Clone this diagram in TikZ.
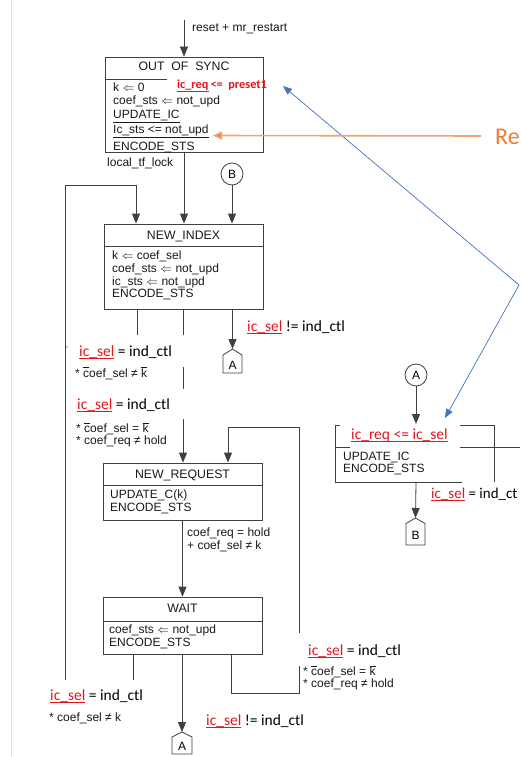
\documentclass[tikz,border=0pt]{standalone}
\usepackage{fontspec}
\setmainfont{Liberation Sans}
\newfontfamily\calfont{Carlito}
\usetikzlibrary{arrows.meta}
\definecolor{ored}{HTML}{E3161E}
\definecolor{oorange}{HTML}{ED7D31}
\definecolor{oblue}{HTML}{4472C4}
\definecolor{edge}{HTML}{E4E4E4}
\newsavebox\ulbox
\newcommand\redul[1]{\sbox\ulbox{#1}\rlap{\textcolor{ored}{\rule[-3.3pt]{\wd\ulbox}{1.7pt}}}\usebox\ulbox}
\newcommand\obar[1]{\sbox\ulbox{#1}\rlap{\raisebox{9.3pt}{\rule{\wd\ulbox}{0.5pt}}}\usebox\ulbox}
\newcommand\icsel{\redul{\textcolor{ored}{ic\_sel}}}
\begin{document}
\begin{tikzpicture}[x=1pt,y=-1pt,
  ln/.style={draw=black!75, line width=0.8pt},
  arr/.style={-{Triangle[width=8pt,length=10pt]}},
  bx/.style={draw=black!75, line width=0.8pt, inner sep=0, minimum width=159},
  ttl/.style={inner sep=0, anchor=base, font=\fontsize{12.3}{14}\selectfont, text=black!90},
  tx/.style={inner sep=0, anchor=base west, font=\fontsize{12}{14}\selectfont, text=black!90},
  lb/.style={inner sep=0, anchor=base west, font=\calfont\fontsize{15.5}{17}\selectfont},
  circ/.style={draw=black!75, line width=0.8pt, circle, minimum size=22, inner sep=0, font=\fontsize{12}{14}\selectfont},
  pent/.style={inner sep=0, font=\fontsize{12}{14}\selectfont}]
\clip (0,0) rectangle (520,757);
\fill[white] (0,0) rectangle (520,757);
\draw[edge] (11,0) -- (11,757);

% ---------- OUT OF SYNC ----------
\node[bx, minimum width=158, minimum height=95] (oos) at (184,104.5) {};
\draw[ln] (105,79) -- (167,79);
\node[ttl] (oost) at (184,71) {OUT\ \ OF\ \ SYNC};
\node[inner sep=0, anchor=base west, font=\calfont\bfseries\fontsize{12.3}{14}\selectfont, text=ored] (oosr) at (177,89) {\redul{ic\_req}\,<=\ \ preset1};
\node[tx] (o1) at (113,92) {k $\Leftarrow$ 0};
\node[tx] (o2) at (113,105) {coef\_sts $\Leftarrow$ not\_upd};
\node[tx] (o3) at (113,118) {\underline{UPDATE\_IC}};
\node[tx] (o4) at (113,133) {\underline{Ic\_sts <= not\_upd}};
\node[tx] (o5) at (113,150) {ENCODE\_STS};
\node[tx] (ltf) at (107,166.5) {local\_tf\_lock};
\coordinate (rst) at (184,20);
\node[tx] (rstl) at (192,31.5) {reset + mr\_restart};

% ---------- NEW_INDEX ----------
\node[bx, minimum height=85] (ni) at (183.5,266.5) {};
\draw[ln] (104,246) -- (263,246);
\node[ttl] (nit) at (183.5,239.5) {NEW\_INDEX};
\node[tx] (n1) at (112,259.5) {k $\Leftarrow$ coef\_sel};
\node[tx] (n2) at (112,272.5) {coef\_sts $\Leftarrow$ not\_upd};
\node[tx] (n3) at (112,285.5) {ic\_sts $\Leftarrow$ not\_upd};
\node[tx] (n4) at (112,297.5) {ENCODE\_STS};

% ---------- NEW_REQUEST ----------
\node[bx, minimum height=57] (nr) at (182.5,491.5) {};
\draw[ln] (103,485) -- (262,485);
\node[ttl] (nrt) at (182.5,478.5) {NEW\_REQUEST};
\node[tx] (r1) at (110,498.5) {UPDATE\_C(k)};
\node[tx] (r2) at (110,511.5) {ENCODE\_STS};

% ---------- WAIT ----------
\node[bx, minimum height=57] (wt) at (182.5,625.5) {};
\draw[ln] (103,621) -- (262,621);
\node[ttl] (wtt) at (182.5,612.5) {WAIT};
\node[tx] (w1) at (109,633.5) {coef\_sts $\Leftarrow$ not\_upd};
\node[tx] (w2) at (109,646.5) {ENCODE\_STS};

% ---------- connectors (left column) ----------
\node[circ] (cB) at (232,174) {B};
\coordinate (x232) at (232.5,0);
\coordinate (x133) at (133,0); \coordinate (x231) at (231,0);

\draw[ln,arr] (rst) -- (oos.north);
\draw[ln,arr] (oos.south) -- (oos.south |- ni.north);
\draw[ln,arr] (cB) -- (cB |- ni.north);
\coordinate (lpB) at (65,680);
\coordinate (lpT) at (136,185);
\draw[ln,arr] (lpB) |- (lpT) -- (lpT |- ni.north);

% exits of NEW_INDEX
\coordinate (e1) at (137,335);
\draw[ln] (e1 |- ni.south) -- (e1);
\coordinate (e2) at (183,335);
\draw[ln] (e2 |- ni.south) -- (e2);
\coordinate (e2a) at (183,367); \coordinate (e2b) at (183,389);
\draw[ln] (e2a) -- (e2b);
\coordinate (e2c) at (183,419);
\draw[ln,arr] (e2c) -- (e2c |- nr.north);

% off-page A after NEW_INDEX
\coordinate (pA1) at (232.5,349);
\draw[ln] (pA1) -- (242,355) -- (242,373) -- (223,373) -- (223,355) -- cycle;
\node[pent] (pA1t) at (232.5,365) {A};
\draw[ln,arr] (x232 |- ni.south) -- (pA1);

% NEW_REQUEST -> WAIT
\draw[ln,arr] (nr.south) -- (nr.south |- wt.north);

% right loop WAIT -> NEW_REQUEST
\coordinate (rl1) at (299,633);
\coordinate (rl2) at (228,427);
\draw[ln,arr] (rl1) |- (rl2) -- (rl2 |- nr.north);
\coordinate (rl3) at (299,666);
\draw[ln] (x231 |- wt.south) |- (299,693) -- (rl3);

% WAIT exits
\coordinate (we1) at (133,680);
\draw[ln] (x133 |- wt.south) -- (we1);
\coordinate (pA2) at (182,732);
\draw[ln,arr] (wt.south -| pA2) -- (pA2);
\draw[ln] (pA2) -- (192,737) -- (192,754) -- (172,754) -- (172,737) -- cycle;
\node[pent] (pA2t) at (182,746.5) {A};

% ---------- labels ----------
\node[lb] (l1) at (247,331) {\icsel{} != ind\_ctl};
\fill[black!80] (67,347) circle (0.7);
\node[lb] (l2) at (79,356) {\icsel{} = ind\_ctl};
\node[tx] (l2b) at (75,377) {* \obar{c}oef\_sel ≠ \obar{k}};
\node[lb] (l3) at (77,409) {\icsel{} = ind\_ctl};
\node[tx] (l3b) at (76,432.5) {* \obar{c}oef\_sel = \obar{k}};
\node[tx] (l3c) at (76,444.5) {* coef\_req ≠ hold};
\node[tx] (l4) at (187,536.5) {coef\_req = hold};
\node[tx] (l4b) at (187,549.5) {+ coef\_sel ≠ k};
\node[lb] (l5) at (308,655) {\icsel{} = ind\_ctl};
\node[tx] (l5b) at (303,675.5) {* \obar{c}oef\_sel = \obar{k}};
\node[tx] (l5c) at (303,687.5) {* coef\_req ≠ hold};
\node[lb] (l6) at (50,700) {\icsel{} = ind\_ctl};
\node[tx] (l6b) at (49,721.5) {* coef\_sel ≠ k};
\node[lb] (l7) at (206,725) {\icsel{} != ind\_ctl};

% ---------- right part ----------
\node[circ] (cA) at (416,375) {A};
\coordinate (rbTop) at (416,424);
\draw[ln,arr] (cA) -- (rbTop);
\draw[ln] (340,425) -- (335,425) -- (335,482) -- (462,482);
\draw[ln] (460,425) -- (494,425) -- (494,482);
\draw[ln] (335,447) -- (350,447);
\draw[ln] (460,447) -- (520,447);
\node[lb, text=ored] (rbr) at (351,439) {\redul{ic\_req <= ic\_sel}};
\node[tx] (rb1) at (343,460.5) {UPDATE\_IC};
\node[tx] (rb2) at (343,472.5) {ENCODE\_STS};
\coordinate (rbBot) at (416,482);
\coordinate (pB) at (415.5,518);
\draw[ln,arr] (rbBot) -- (pB);
\draw[ln] (pB) -- (425,523.5) -- (425,545) -- (406,545) -- (406,523.5) -- cycle;
\node[pent] (pBt) at (415.5,535) {B};
\node[lb, font=\calfont\fontsize{15}{17}\selectfont] (l8) at (431,498) {\icsel{} = ind\_ct};

% ---------- annotations ----------
\coordinate (bl) at (519,285);
\coordinate (blT1) at (283,86);
\coordinate (blT2) at (445,418);
\draw[oblue, line width=0.7pt, -{Triangle[width=7pt,length=9pt]}] (bl) -- (blT1);
\draw[oblue, line width=0.7pt, -{Triangle[width=7pt,length=9pt]}] (bl) -- (blT2);
\coordinate (orS) at (481,136);
\coordinate (orT) at (213,135.5);
\draw[oorange!70, line width=1.6pt, -{Triangle[width=8pt,length=9pt,fill=oorange]}] (orS) -- (orT);
\node[inner sep=0, anchor=base west, font=\calfont\fontsize{24}{28}\selectfont, text=oorange] (re) at (495,144) {Re};
\end{tikzpicture}
\end{document}
